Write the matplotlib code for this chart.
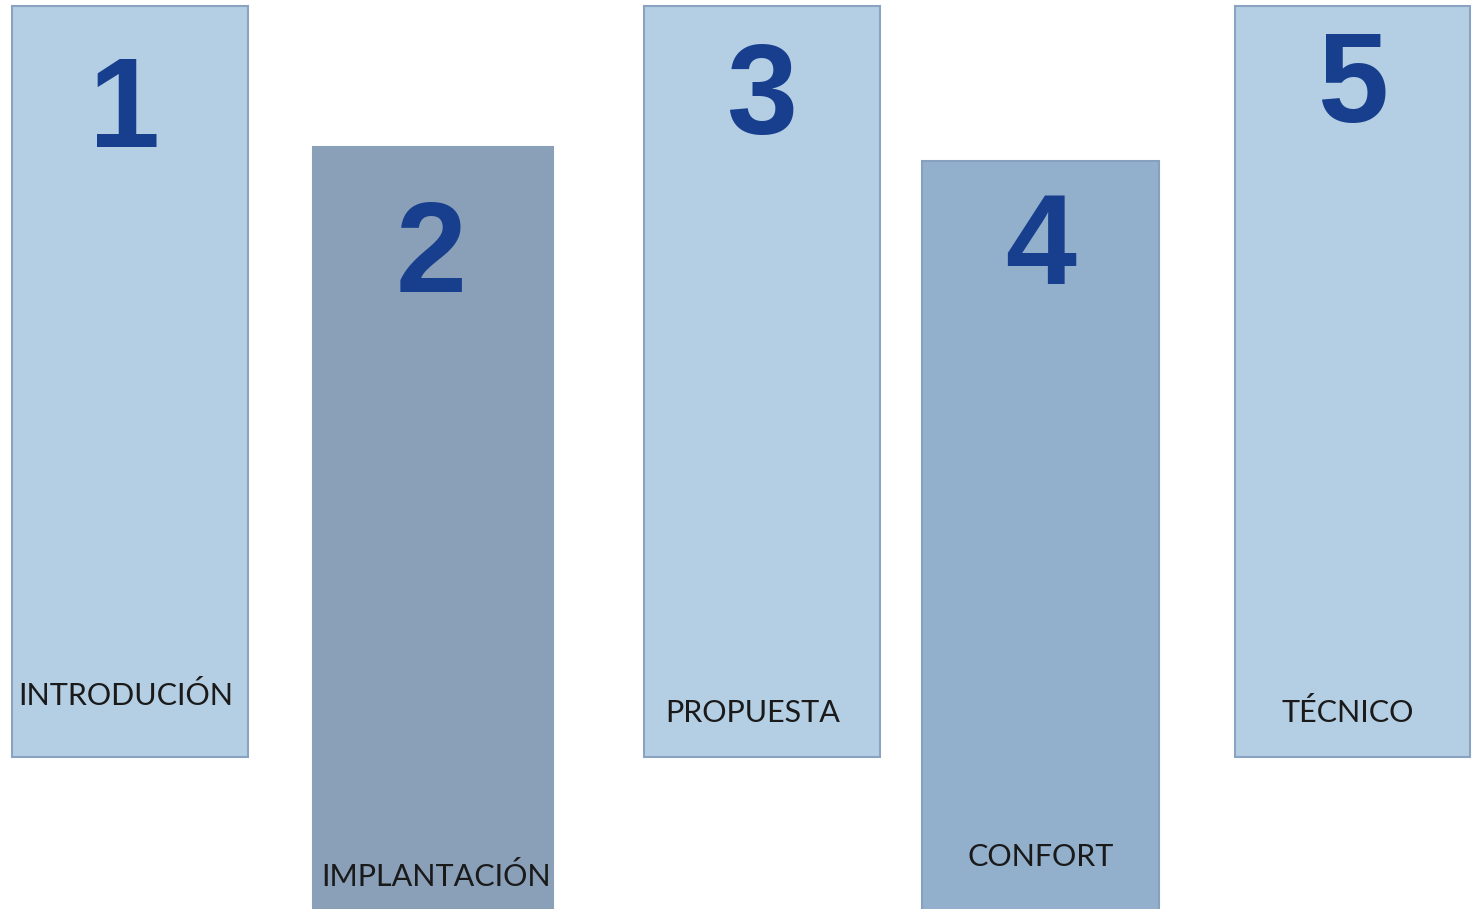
import matplotlib
matplotlib.use("Agg")
import matplotlib.pyplot as plt

# stages of the document
stages = ["INTRODUCIÓN", "IMPLANTACIÓN", "PROPUESTA", "CONFORT", "TÉCNICO"]
numbers = ["1", "2", "3", "4", "5"]
# vertical extent of each panel (pixels from the top)
panel_top = [6, 147, 6, 161, 6]
panel_bottom = [757, 915, 757, 915, 757]

centers = [130, 433, 762, 1041, 1353]
widths = [236, 240, 236, 237, 235]
fills = ["#b4cee3", "#8aa0b8", "#b4cee3", "#92afcc", "#b4cee3"]
edges = ["#8aa3c2", "#8aa0b8", "#8aa3c2", "#87a0bf", "#8aa3c2"]
num_base = [147, 292, 134, 284, 122]
num_x = [125, 431, 762, 1041, 1353]
lab_base = [705, 886, 722, 866, 722]
lab_x = [126, 436, 753, 1041, 1348]

fig = plt.figure(figsize=(14.74, 9.09), dpi=100)
ax = fig.add_axes([0, 0, 1, 1])
ax.set_xlim(0, 1474)
ax.set_ylim(909, 0)
ax.axis("off")

heights = [b - t for t, b in zip(panel_top, panel_bottom)]
ax.bar(centers, heights, bottom=panel_top, width=widths,
       color=fills, edgecolor=edges, linewidth=1.5)

for i in range(len(stages)):
    ax.text(num_x[i], num_base[i], numbers[i], ha="center", va="baseline",
            fontsize=92, fontweight="bold", family="Liberation Sans",
            color="#173f8e")
    ax.text(lab_x[i], lab_base[i], stages[i], ha="center", va="baseline",
            fontsize=22, family="Lato", color="#1a1a1a")

fig.savefig("out.png", dpi=100)
